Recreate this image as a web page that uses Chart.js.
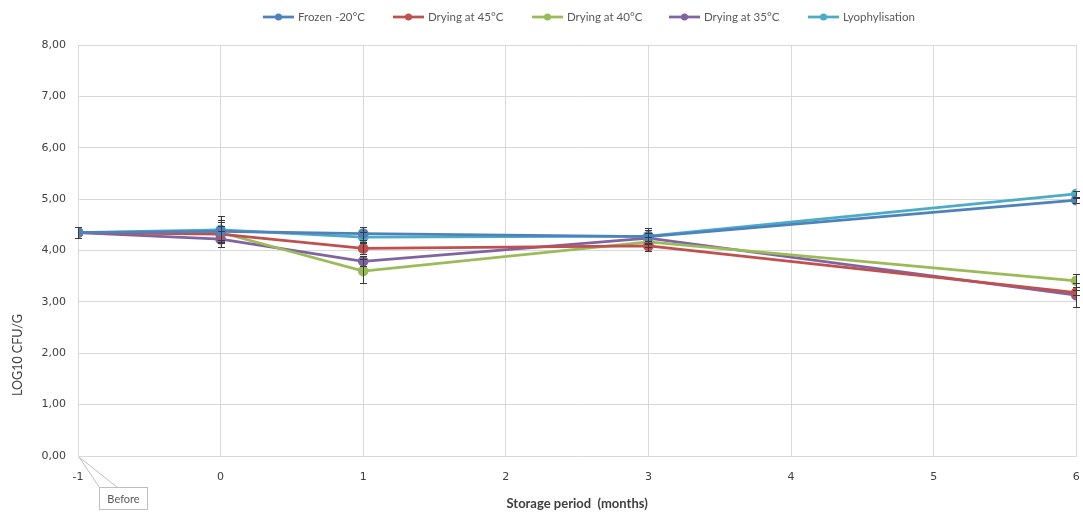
<!DOCTYPE html>
<html><head><meta charset="utf-8">
<script src="https://cdn.jsdelivr.net/npm/chart.js@4.4.1/dist/chart.umd.min.js"></script>
<style>html,body{margin:0;padding:0;background:#fff}#wrap{width:1083px;height:516px}</style>
</head><body><div id="wrap"><canvas id="c" width="1083" height="516"></canvas></div>
<script>
const months = [-1, 0, 1, 3, 6];
const seriesNames = ["Frozen -20°C", "Drying at 45°C", "Drying at 40°C", "Drying at 35°C", "Lyophylisation"];
const seriesColors = ["#4f81bd", "#c0504d", "#9bbb59", "#8064a2", "#4bacc6"];
const frozen = [4.35, 4.37, 4.33, 4.27, 4.98];
const dry45 = [4.35, 4.32, 4.04, 4.09, 3.18];
const dry40 = [4.35, 4.35, 3.60, 4.17, 3.41];
const dry35 = [4.35, 4.22, 3.79, 4.24, 3.13];
const lyo = [4.35, 4.40, 4.26, 4.28, 5.10];
const errFrozen = [0.10, 0.30, 0.12, 0.12, 0.05];
const err45 = [0.10, 0.15, 0.10, 0.10, 0.05];
const err40 = [0.10, 0.20, 0.24, 0.10, 0.13];
const err35 = [0.10, 0.15, 0.10, 0.10, 0.23];
const errLyo = [0.10, 0.20, 0.10, 0.15, 0.05];
const yTicks = [0, 1, 2, 3, 4, 5, 6, 7, 8];
const xTicks = [-1, 0, 1, 2, 3, 4, 5, 6];
const yTitle = 'LOG10 CFU/G';

const values = [frozen, dry45, dry40, dry35, lyo];
const errors = [errFrozen, err45, err40, err35, errLyo];

// style constants (layout only)
const legendX = [263, 393, 532, 669, 808];
const legendY = 17;
const uiFont = 'Lato, "Open Sans", sans-serif';
const tickFont = '"DejaVu Sans", Verdana, sans-serif';

const datasets = seriesNames.map((n,i)=>({
  label: n,
  data: months.map((m,j)=>({x:m, y:values[i][j]})),
  errors: errors[i],
  borderColor: seriesColors[i],
  backgroundColor: seriesColors[i],
  borderWidth: 2.75,
  pointRadius: 4,
  pointStyle: 'circle',
  tension: 0
}));

const errorBars = {
  id:'errorBars',
  afterDatasetsDraw(chart){
    const ctx = chart.ctx, xs = chart.scales.x, ys = chart.scales.y;
    ctx.save();
    ctx.strokeStyle = '#3a3a3a'; ctx.lineWidth = 1;
    chart.data.datasets.forEach(ds=>{
      ds.data.forEach((p,j)=>{
        const e = ds.errors[j];
        const x = Math.round(xs.getPixelForValue(p.x))+0.5;
        const y1 = ys.getPixelForValue(p.y+e), y2 = ys.getPixelForValue(p.y-e);
        ctx.beginPath();
        ctx.moveTo(x,y1); ctx.lineTo(x,y2);
        ctx.moveTo(x-3.5,Math.round(y1)+0.5); ctx.lineTo(x+3.5,Math.round(y1)+0.5);
        ctx.moveTo(x-3.5,Math.round(y2)+0.5); ctx.lineTo(x+3.5,Math.round(y2)+0.5);
        ctx.stroke();
      });
    });
    ctx.restore();
  }
};

const lineLegend = {
  id:'lineLegend',
  afterDraw(chart){
    const ctx = chart.ctx;
    ctx.save();
    ctx.font = '11.5px ' + uiFont;
    ctx.textBaseline = 'middle'; ctx.textAlign = 'left';
    chart.data.datasets.forEach((ds,i)=>{
      const x = legendX[i];
      ctx.strokeStyle = ds.borderColor; ctx.lineWidth = 2.75;
      ctx.beginPath(); ctx.moveTo(x, legendY); ctx.lineTo(x+31, legendY); ctx.stroke();
      ctx.fillStyle = ds.borderColor;
      ctx.beginPath(); ctx.arc(x+15.5, legendY, 3.5, 0, Math.PI*2); ctx.fill();
      ctx.fillStyle = '#595959';
      ctx.fillText(ds.label, x+35, legendY+0.5);
    });
    ctx.restore();
  }
};

const yAxisTitle = {
  id:'yAxisTitle',
  afterDraw(chart){
    const ctx = chart.ctx;
    ctx.save();
    ctx.translate(18, 355);
    ctx.rotate(-Math.PI/2);
    ctx.font = '12.5px ' + uiFont;
    ctx.fillStyle = '#404040';
    ctx.textAlign = 'center'; ctx.textBaseline = 'middle';
    ctx.fillText(yTitle, 0, 0);
    ctx.restore();
  }
};

const beforeLabel = {
  id:'beforeLabel',
  afterDraw(chart){
    const ctx = chart.ctx, xs = chart.scales.x, ys = chart.scales.y;
    const ax = xs.getPixelForValue(-1), ay = ys.getPixelForValue(0);
    const bx = ax+21, by = ay+31, bw = 48, bh = 22;
    ctx.save();
    ctx.strokeStyle = '#bfbfbf'; ctx.lineWidth = 1;
    ctx.fillStyle = '#fff';
    ctx.beginPath();
    ctx.moveTo(bx+0.5, by+0.5);
    ctx.lineTo(ax+1, ay+1);
    ctx.lineTo(bx+18.5, by+0.5);
    ctx.stroke();
    ctx.fillRect(bx+0.5, by+0.5, bw, bh);
    ctx.strokeRect(bx+0.5, by+0.5, bw, bh);
    ctx.fillStyle = '#595959';
    ctx.font = '11px ' + uiFont;
    ctx.textAlign = 'center'; ctx.textBaseline = 'middle';
    ctx.fillText('Before', bx+bw/2+0.5, by+bh/2+1);
    ctx.restore();
  }
};

new Chart(document.getElementById('c'), {
  type:'line',
  data:{datasets},
  plugins:[errorBars, beforeLabel, lineLegend, yAxisTitle],
  options:{
    responsive:false, animation:false,
    layout:{padding:{left:0,right:3,top:45,bottom:0}},
    plugins:{ legend:{display:false}, tooltip:{enabled:false} },
    scales:{
      x:{
        type:'linear', min:-1, max:6,
        afterBuildTicks(s){ s.ticks = xTicks.map(v=>({value:v})); },
        afterFit(s){ s.height = 60; s.paddingRight = 0; s.paddingLeft = 0; },
        grid:{color:'#d9d9d9', drawTicks:false},
        border:{color:'#d9d9d9'},
        ticks:{padding:15, color:'#404040', maxRotation:0, font:{family:tickFont, size:11}},
        title:{display:true, text:'Storage period  (months)', color:'#404040', padding:{top:2},
          font:{family:uiFont, size:13, weight:'bold'}}
      },
      y:{
        min:0, max:8,
        afterBuildTicks(s){ s.ticks = yTicks.map(v=>({value:v})); },
        afterFit(s){ s.width = 78; s.paddingTop = 0; s.paddingBottom = 0; },
        grid:{color:'#d9d9d9', drawTicks:false},
        border:{color:'#d9d9d9'},
        ticks:{padding:12, color:'#404040', font:{family:tickFont, size:11},
          callback:v=>v.toFixed(2).replace('.',',')},
        title:{display:false}
      }
    }
  }
});
</script></body></html>
